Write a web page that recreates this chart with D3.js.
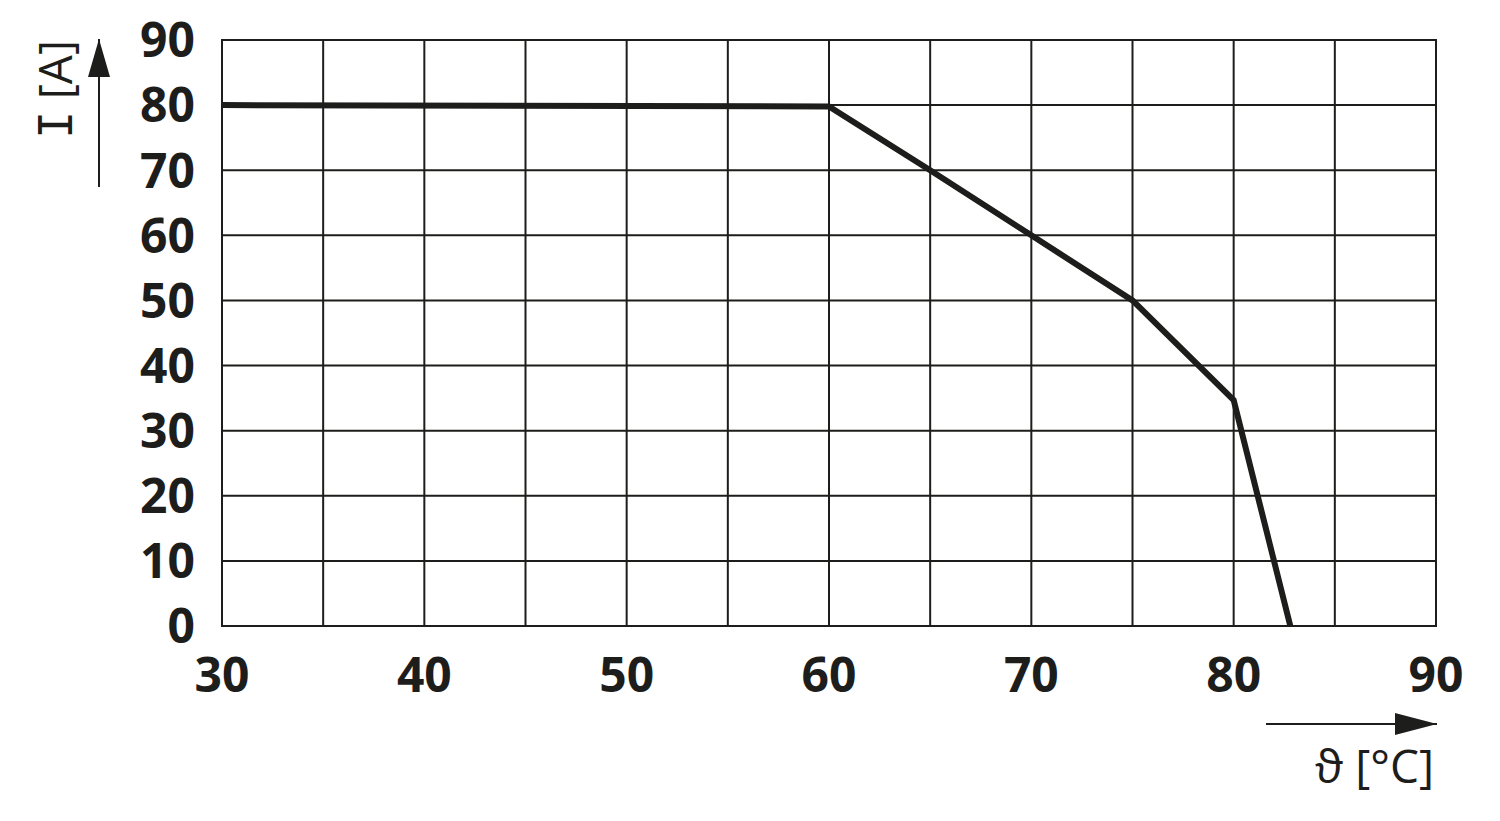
<!DOCTYPE html>
<html><head><meta charset="utf-8">
<script src="https://cdn.jsdelivr.net/npm/d3@7"></script>
<style>html,body{margin:0;padding:0;background:#fff;}svg{display:block;}</style>
</head><body>
<svg id="chart" width="1500" height="821"></svg>
<script>
// Data
const temperature = [30, 60, 65, 70, 75, 80, 82.8];
const current = [80, 79.8, 70, 60, 50, 34.7, 0];
const xTicks = [30, 40, 50, 60, 70, 80, 90];
const xGrid = [30, 35, 40, 45, 50, 55, 60, 65, 70, 75, 80, 85, 90];
const yTicks = [0, 10, 20, 30, 40, 50, 60, 70, 80, 90];
const yLabel = "I [A]";
const xLabel = "ϑ [°C]";

const ink = "#1d1d1b";
const svg = d3.select("#chart");
const L = 222, R = 1436, T = 40, B = 626;
const x = d3.scaleLinear().domain([30, 90]).range([L, R]);
const y = d3.scaleLinear().domain([0, 90]).range([B, T]);

const defs = svg.append("defs");
defs.append("marker").attr("id", "arrowUp").attr("viewBox", "0 0 22 38")
  .attr("refX", 11).attr("refY", 0).attr("markerWidth", 22).attr("markerHeight", 38)
  .attr("markerUnits", "userSpaceOnUse").attr("orient", "0")
  .append("path").attr("d", "M0,38 L11,0 L22,38 Z").attr("fill", ink);
defs.append("marker").attr("id", "arrowRight").attr("viewBox", "0 0 42 22")
  .attr("refX", 42).attr("refY", 11).attr("markerWidth", 42).attr("markerHeight", 22)
  .attr("markerUnits", "userSpaceOnUse").attr("orient", "0")
  .append("path").attr("d", "M0,0 L42,11 L0,22 Z").attr("fill", ink);

// Grid
const g = svg.append("g");
g.selectAll("line.vx").data(xGrid).join("line")
  .attr("x1", d => x(d)).attr("x2", d => x(d)).attr("y1", y(90) - 1).attr("y2", y(0) + 1)
  .attr("stroke", ink).attr("stroke-width", 2);
g.selectAll("line.hy").data(yTicks).join("line")
  .attr("y1", d => y(d)).attr("y2", d => y(d)).attr("x1", x(30) - 1).attr("x2", x(90) + 1)
  .attr("stroke", ink).attr("stroke-width", 2);

// Tick labels
const tickFont = "'Open Sans', 'Noto Sans', sans-serif";
svg.append("g").selectAll("text").data(yTicks).join("text")
  .attr("x", 195).attr("y", d => y(d)).attr("dy", "0.36em")
  .attr("text-anchor", "end").attr("font-family", tickFont).attr("font-weight", 700)
  .attr("font-size", 48).attr("fill", ink).text(d => d);
svg.append("g").selectAll("text").data(xTicks).join("text")
  .attr("x", d => x(d)).attr("y", 692)
  .attr("text-anchor", "middle").attr("font-family", tickFont).attr("font-weight", 700)
  .attr("font-size", 48).attr("fill", ink).text(d => d);

// Data line
const line = d3.line().x((d, i) => x(temperature[i])).y(d => y(d));
svg.append("path").datum(current).attr("d", line)
  .attr("fill", "none").attr("stroke", ink).attr("stroke-width", 6)
  .attr("stroke-linejoin", "miter");

// Axis arrows
svg.append("line").attr("x1", 99).attr("x2", 99).attr("y1", 187).attr("y2", 39)
  .attr("stroke", ink).attr("stroke-width", 2).attr("marker-end", "url(#arrowUp)");
svg.append("line").attr("x1", 1266).attr("x2", 1437).attr("y1", 724).attr("y2", 724)
  .attr("stroke", ink).attr("stroke-width", 2).attr("marker-end", "url(#arrowRight)");

// Axis titles
const labFont = "'Open Sans', 'Noto Sans', sans-serif";
const yl = svg.append("text")
  .attr("transform", "translate(72,40) rotate(-90)")
  .attr("text-anchor", "end").attr("font-family", labFont).attr("font-size", 46)
  .attr("fill", ink);
yl.append("tspan").attr("font-family", "'DejaVu Sans Mono', monospace").text(yLabel.slice(0, 1));
yl.append("tspan").text(yLabel.slice(1));
svg.append("text").attr("x", 1434).attr("y", 783)
  .attr("text-anchor", "end").attr("font-family", labFont).attr("font-size", 46)
  .attr("fill", ink).text(xLabel);
</script>
</body></html>
